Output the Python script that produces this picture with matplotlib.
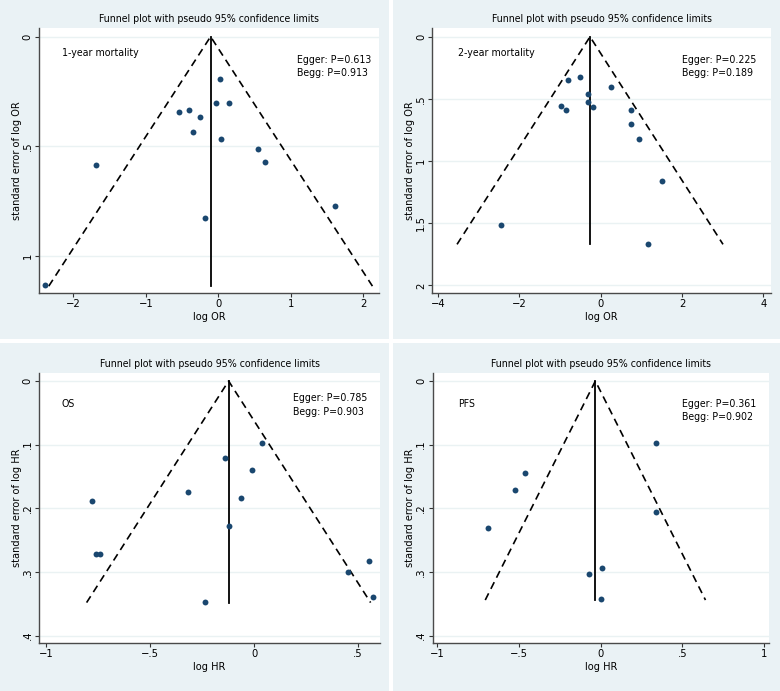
import matplotlib
matplotlib.use("Agg")
import matplotlib.pyplot as plt
from matplotlib.patches import Rectangle
import numpy as np

plt.rcParams['font.family'] = ['DejaVu Sans']
plt.rcParams['font.stretch'] = 'condensed'

# ---- data ----
p1_x = [0.023, -0.032, 0.143, -0.547, -0.40, -0.253, -0.349, 0.037, 0.543, 0.644, -1.683, 1.609, -0.189, -2.391]
p1_se = [0.193, 0.304, 0.303, 0.342, 0.336, 0.367, 0.435, 0.467, 0.514, 0.572, 0.586, 0.773, 0.830, 1.135]
p1_center, p1_semax = -0.106, 1.139

p2_x = [-0.50, -0.796, 0.262, -0.312, -0.312, -0.189, -0.984, -0.853, 0.755, 0.755, 0.952, 1.518, -2.445, 1.157]
p2_se = [0.324, 0.349, 0.408, 0.464, 0.523, 0.568, 0.560, 0.592, 0.590, 0.705, 0.823, 1.158, 1.515, 1.668]
p2_center, p2_semax = -0.263, 1.670

p3_x = [0.038, -0.141, -0.011, -0.317, -0.064, -0.780, -0.118, -0.757, -0.738, 0.552, 0.452, 0.570, -0.237]
p3_se = [0.0974, 0.1215, 0.140, 0.174, 0.184, 0.188, 0.228, 0.271, 0.271, 0.283, 0.3005, 0.339, 0.347]
p3_center, p3_semax = -0.122, 0.348

p4_x = [0.341, -0.461, -0.527, -0.692, 0.341, 0.010, -0.071, 0.0]
p4_se = [0.0969, 0.145, 0.171, 0.231, 0.206, 0.294, 0.303, 0.343]
p4_center, p4_semax = -0.033, 0.344

labels = ["1-year mortality", "2-year mortality", "OS", "PFS"]
eggers = ["Egger: P=0.613", "Egger: P=0.225", "Egger: P=0.785", "Egger: P=0.361"]
beggs = ["Begg: P=0.913", "Begg: P=0.189", "Begg: P=0.903", "Begg: P=0.902"]
xlabels = ["log OR", "log OR", "log HR", "log HR"]
ylabels = ["standard error of log OR", "standard error of log OR",
           "standard error of log HR", "standard error of log HR"]
xticks = [[-2, -1, 0, 1, 2], [-4, -2, 0, 2, 4], [-1, -0.5, 0, 0.5], [-1, -0.5, 0, 0.5, 1]]
xticklabels = [["\u22122", "\u22121", "0", "1", "2"], ["\u22124", "\u22122", "0", "2", "4"],
               ["\u22121", "\u2212.5", "0", ".5"], ["\u22121", "\u2212.5", "0", ".5", "1"]]
yticks = [[0, 0.5, 1], [0, 0.5, 1, 1.5, 2], [0, 0.1, 0.2, 0.3, 0.4], [0, 0.1, 0.2, 0.3, 0.4]]
yticklabels = [["0", ".5", "1"], ["0", ".5", "1", "1.5", "2"],
               ["0", ".1", ".2", ".3", ".4"], ["0", ".1", ".2", ".3", ".4"]]

W, H = 780, 691
fig = plt.figure(figsize=(W / 100, H / 100), dpi=100)
fig.patch.set_facecolor('white')

BG = '#EAF2F5'
NAVY = '#1A476F'
panels = [(0, 0, 389, 339), (393, 0, 780, 339), (0, 343, 389, 691), (393, 343, 780, 691)]
for (x0, y0, x1, y1) in panels:
    fig.add_artist(Rectangle((x0 / W, 1 - y1 / H), (x1 - x0) / W, (y1 - y0) / H,
                             transform=fig.transFigure, facecolor=BG, edgecolor='none', zorder=0))

boxes = [(39, 28.3, 379, 292.7), (432.3, 28.3, 770.7, 292.7),
         (39, 373.3, 380, 642.7), (432.7, 373.3, 769.3, 642.7)]
xlims = [(-2.473, 2.217), (-4.145, 4.184), (-1.0327, 0.6052), (-1.029, 1.032)]
ylims = [(1.169, -0.038), (2.059, -0.068), (0.411, -0.0121), (0.411, -0.0121)]
xs = [p1_x, p2_x, p3_x, p4_x]
ses = [p1_se, p2_se, p3_se, p4_se]
centers = [p1_center, p2_center, p3_center, p4_center]
semaxs = [p1_semax, p2_semax, p3_semax, p4_semax]
lab_pos = [(0.067, 0.905), (0.077, 0.905), (0.0665, 0.885), (0.076, 0.885)]
egg_pos = [(0.758, 0.88, 0.832), (0.738, 0.88, 0.832), (0.746, 0.907, 0.8575), (0.742, 0.885, 0.837)]

for i in range(4):
    l, t, r, b = boxes[i]
    ax = fig.add_axes([l / W, 1 - b / H, (r - l) / W, (b - t) / H])
    ax.set_facecolor('white')
    ax.set_xlim(*xlims[i])
    ax.set_ylim(*ylims[i])
    for s in ['top', 'right']:
        ax.spines[s].set_visible(False)
    for s in ['left', 'bottom']:
        ax.spines[s].set_color('#4a4a4a')
        ax.spines[s].set_linewidth(1.0)
    ax.set_yticks(yticks[i])
    ax.set_yticklabels(yticklabels[i], rotation=90, va='center', fontsize=8)
    ax.set_xticks(xticks[i])
    ax.set_xticklabels(xticklabels[i], fontsize=8)
    ax.tick_params(direction='out', length=2.6, width=0.8, color='#333333', pad=2)
    ax.grid(axis='y', color='#EAF2F3', linewidth=1.0)
    ax.set_axisbelow(True)
    c, m = centers[i], semaxs[i]
    ax.plot([c - 1.96 * m, c, c + 1.96 * m], [m, 0, m], ls=(0, (4.5, 3)), color='black', lw=1.2, zorder=2)
    ax.plot([c, c], [0, m], color='black', lw=1.3, zorder=2)
    ax.scatter(xs[i], ses[i], s=18, color=NAVY, zorder=3, linewidths=0)
    ax.set_title("Funnel plot with pseudo 95% confidence limits", fontsize=7.6, pad=4.5)
    ax.set_xlabel(xlabels[i], fontsize=7.8, labelpad=2)
    ax.set_ylabel(ylabels[i], fontsize=7.8, labelpad=0.8)
    lx, ly = lab_pos[i]
    ax.text(lx, ly, labels[i], transform=ax.transAxes, fontsize=7.6, va='center', ha='left')
    ex, ey, by = egg_pos[i]
    ax.text(ex, ey, eggers[i], transform=ax.transAxes, fontsize=7.6, va='center', ha='left')
    ax.text(ex, by, beggs[i], transform=ax.transAxes, fontsize=7.6, va='center', ha='left')

fig.savefig("out.png", dpi=100, facecolor='white')
